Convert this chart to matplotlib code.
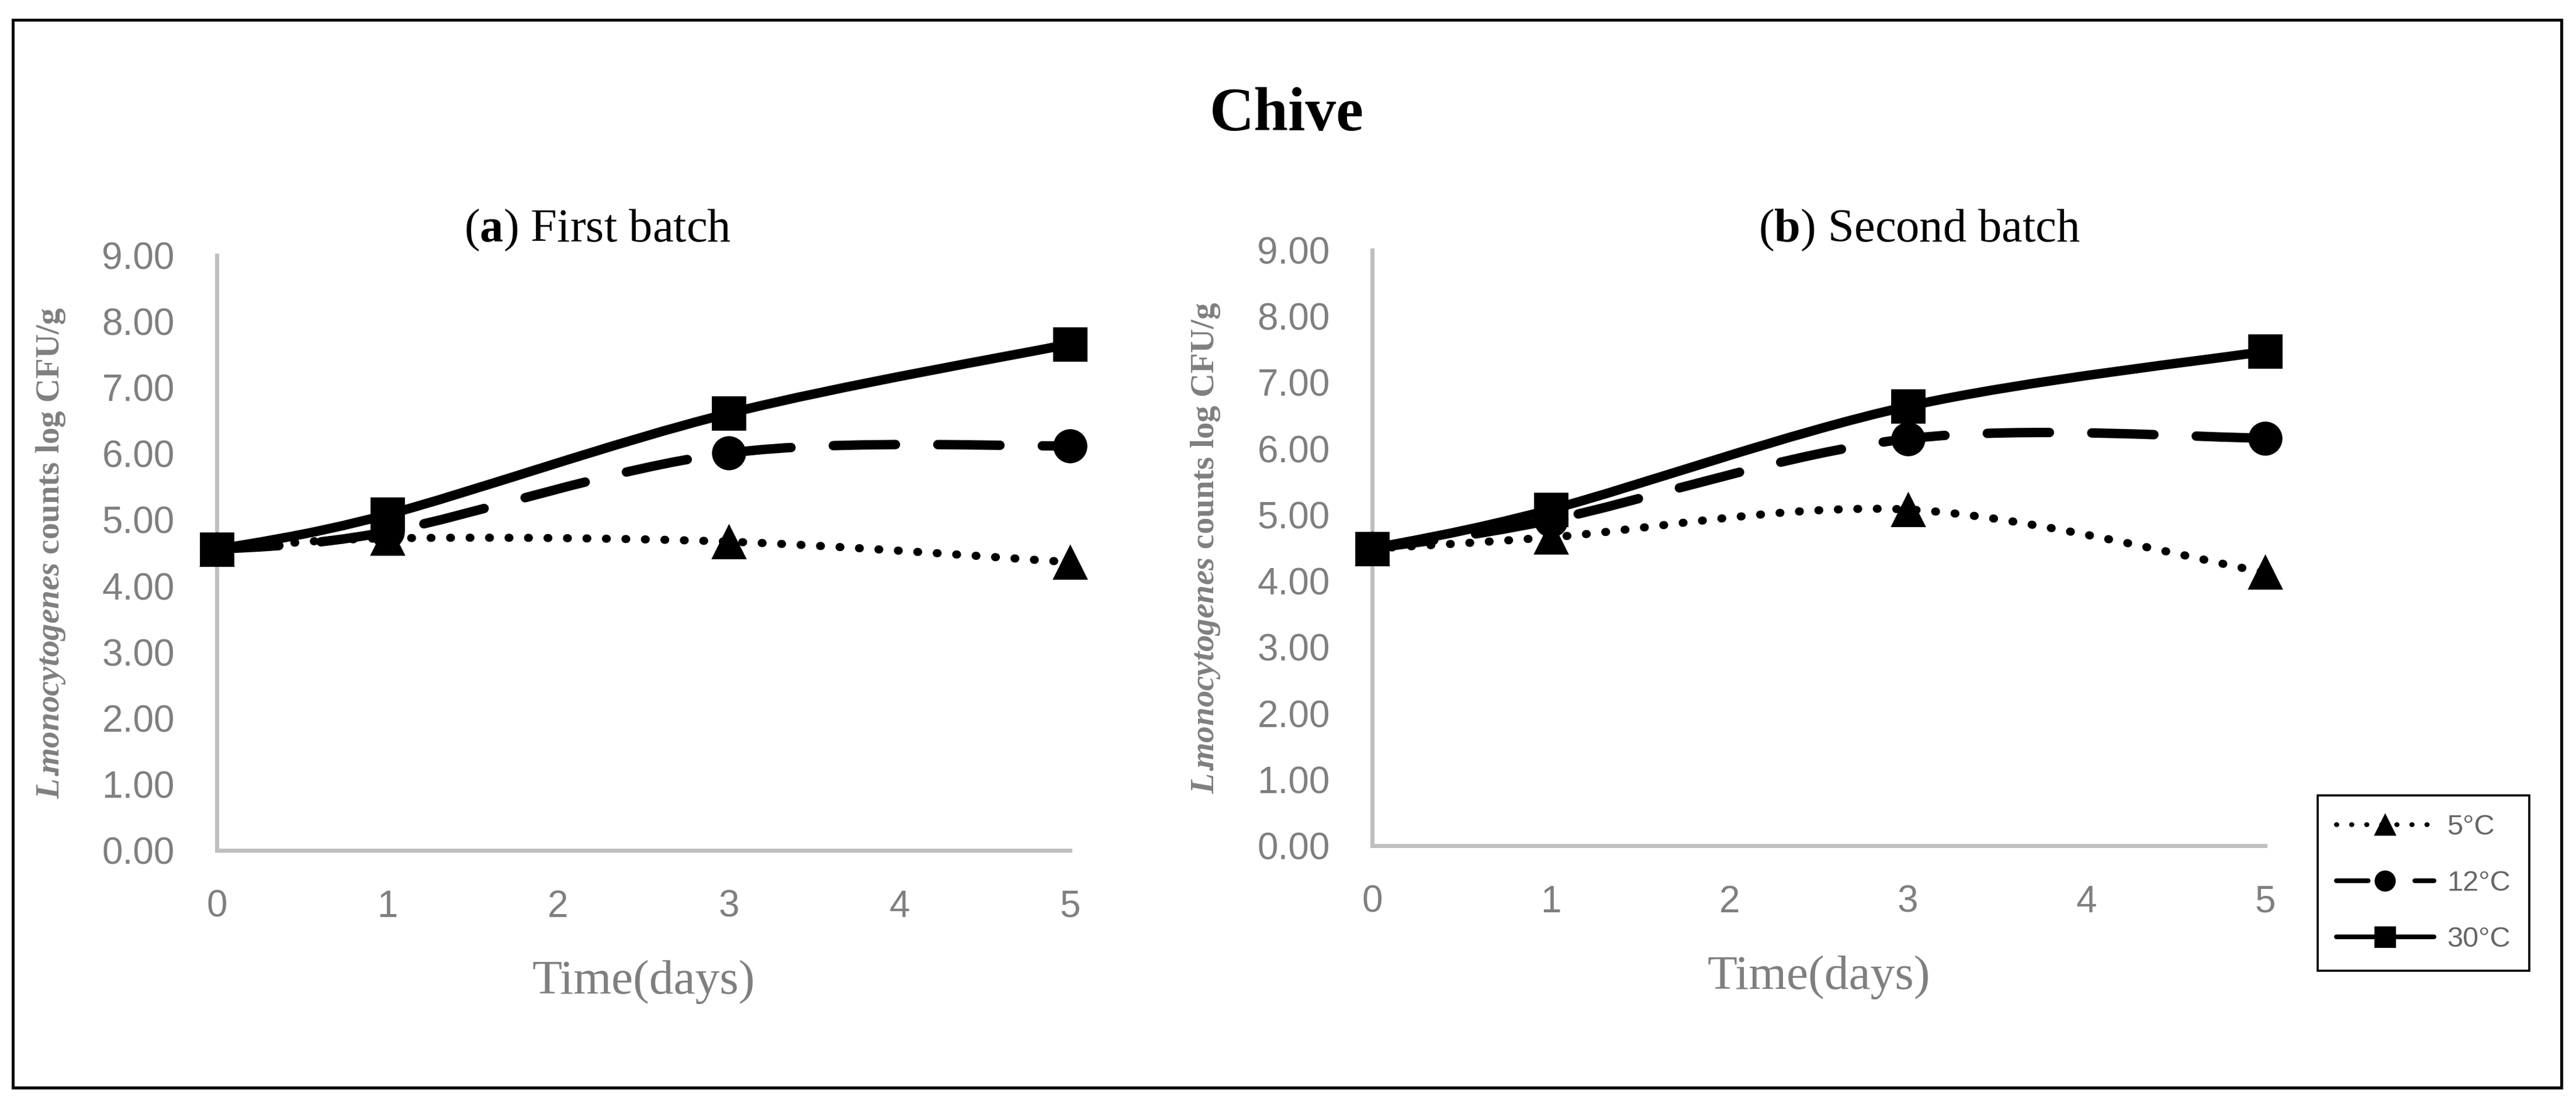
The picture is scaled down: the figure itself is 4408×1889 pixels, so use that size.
import matplotlib
matplotlib.use('Agg')

import matplotlib.pyplot as plt
from matplotlib.path import Path
from matplotlib.patches import PathPatch, Rectangle
from matplotlib.lines import Line2D

# data (log CFU/g)
days = [0, 1, 3, 5]
temps = ['5°C', '12°C', '30°C']
batch1_5c = [4.55, 4.72, 4.67, 4.36]
batch1_12c = [4.55, 4.82, 6.01, 6.12]
batch1_30c = [4.55, 5.08, 6.61, 7.66]
batch2_5c = [4.49, 4.66, 5.08, 4.13]
batch2_12c = [4.49, 4.92, 6.15, 6.16]
batch2_30c = [4.49, 5.08, 6.64, 7.47]
x_ticks = [0, 1, 2, 3, 4, 5]
y_ticks = [0, 1, 2, 3, 4, 5, 6, 7, 8, 9]

plt.rcParams['font.family'] = ['Liberation Sans', 'DejaVu Sans']
plt.rcParams['mathtext.fontset'] = 'custom'
plt.rcParams['mathtext.rm'] = 'Liberation Serif'
plt.rcParams['mathtext.it'] = 'Liberation Serif:italic:bold'
plt.rcParams['mathtext.bf'] = 'Liberation Serif:bold'

W, H = 4408, 1889
DPI = 200
GREY_TXT = '#7f7f7f'
GREY_AX = '#bfbfbf'

# line / marker look per temperature
styles = {
    '5°C': dict(ls=(0, (0.1, 2.3)), lw=5.0, marker='^'),
    '12°C': dict(ls=(0, (6.6, 4.5)), lw=5.8, marker='o'),
    '30°C': dict(ls='-', lw=5.8, marker='s'),
}


def smooth_path(xs, ys):
    # excel-like smoothed line: catmull-rom turned into cubic bezier pieces
    pts = list(zip(xs, ys))
    verts = [pts[0]]
    codes = [Path.MOVETO]
    n = len(pts)
    for i in range(n - 1):
        p0 = pts[i - 1] if i > 0 else pts[i]
        p1 = pts[i]
        p2 = pts[i + 1]
        p3 = pts[i + 2] if i + 2 < n else pts[i + 1]
        c1 = (p1[0] + (p2[0] - p0[0]) / 6, p1[1] + (p2[1] - p0[1]) / 6)
        c2 = (p2[0] - (p3[0] - p1[0]) / 6, p2[1] - (p3[1] - p1[1]) / 6)
        verts += [c1, c2, p2]
        codes += [Path.CURVE4] * 3
    return Path(verts, codes)


def draw_panel(ax, series, title_txt, title_x):
    for name, vals in zip(temps, series):
        st = styles[name]
        patch = PathPatch(smooth_path(days, vals), fill=False, edgecolor='black',
                          lw=st['lw'], linestyle=st['ls'], capstyle='round',
                          joinstyle='round', clip_on=False, zorder=3)
        ax.add_patch(patch)
        ax.plot(days, vals, linestyle='none', marker=st['marker'], markersize=20,
                color='black', clip_on=False, zorder=4)

    ax.set_xlim(0, 5)
    ax.set_ylim(0, 9)
    ax.set_xticks(x_ticks)
    ax.set_yticks(y_ticks)
    ax.set_yticklabels(['%.2f' % v for v in y_ticks])
    for s in ['top', 'right']:
        ax.spines[s].set_visible(False)
    for s in ['left', 'bottom']:
        ax.spines[s].set_color(GREY_AX)
        ax.spines[s].set_linewidth(2.5)
    ax.tick_params(length=0, labelsize=23, labelcolor=GREY_TXT)
    ax.tick_params(axis='y', pad=26)
    ax.tick_params(axis='x', pad=24)

    ax.set_xlabel('Time(days)', family='Liberation Serif', fontsize=30,
                  color=GREY_TXT, va='center')
    ax.xaxis.set_label_coords(0.5, -0.221)
    ax.set_ylabel(r'$\mathit{L.\!\!monocytogenes}$ counts log CFU/g',
                  family='Liberation Serif', fontweight='bold', fontsize=20.5,
                  color=GREY_TXT, va='center')

    fig.text(title_x, 1 - 394 / H, title_txt, family='Liberation Serif',
             fontsize=29, color='black', ha='center', va='center')


fig = plt.figure(figsize=(W / DPI, H / DPI), dpi=DPI)

ax1 = fig.add_axes([371 / W, 1 - 1455 / H, 1460 / W, 1018 / H])
ax2 = fig.add_axes([2348 / W, 1 - 1447 / H, 1528 / W, 1019 / H])

draw_panel(ax1, [batch1_5c, batch1_12c, batch1_30c],
           r'($\mathbf{a}$) First batch', 1022 / W)
ax1.yaxis.set_label_coords(-0.1945, 0.5)
draw_panel(ax2, [batch2_5c, batch2_12c, batch2_30c],
           r'($\mathbf{b}$) Second batch', 3284 / W)
ax2.yaxis.set_label_coords(-0.1865, 0.5)

fig.text(2202 / W, 1 - 197 / H, 'Chive', family='Liberation Serif',
         fontweight='bold', fontsize=38, ha='center', va='center')

# legend with thinner handles, like the source
leg_styles = {
    '5°C': dict(ls=(0, (0.1, 3.1)), marker='^'),
    '12°C': dict(ls=(0, (6.75, 9.9)), marker='o'),
    '30°C': dict(ls='-', marker='s'),
}
handles = [Line2D([], [], color='black', lw=2.9, markersize=12,
                  dash_capstyle='round', solid_capstyle='round', **leg_styles[t])
           for t in temps]
leg = fig.legend(handles, temps, loc='upper left',
                 bbox_to_anchor=(3966 / W, 1 - 1361 / H), borderaxespad=0,
                 frameon=True, fancybox=False, framealpha=1, edgecolor='black',
                 borderpad=0.65, handlelength=3.45, handletextpad=0.45,
                 labelspacing=1.05, numpoints=1,
                 prop={'family': 'Liberation Sans', 'size': 17.5},
                 labelcolor='#666666')
leg.get_frame().set_linewidth(1.3)

# outer border around the whole figure
fig.add_artist(Rectangle((22 / W, 1 - 1861 / H), (4383 - 22) / W, (1861 - 34) / H,
                         transform=fig.transFigure, fill=False,
                         edgecolor='black', lw=1.8))

fig.savefig('out.png', dpi=DPI)
